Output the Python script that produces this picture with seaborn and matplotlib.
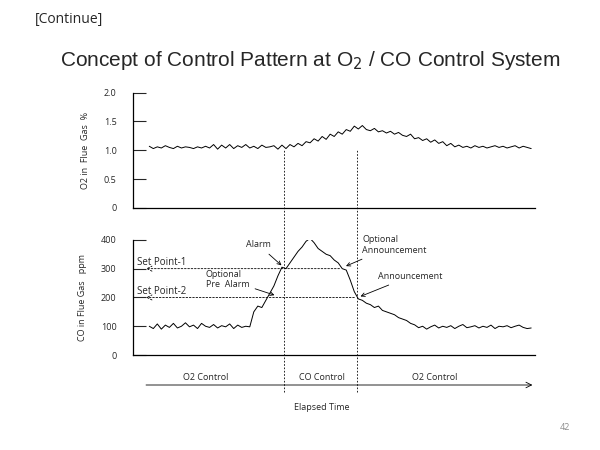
import numpy as np
import seaborn as sns
import matplotlib.pyplot as plt
from matplotlib.lines import Line2D

# elapsed time (arbitrary units) and readings
time = np.arange(4, 100)
o2_pct = [1.07, 1.03, 1.06, 1.04, 1.08, 1.05, 1.03, 1.07, 1.04, 1.06,
          1.05, 1.03, 1.06, 1.04, 1.07, 1.04, 1.10, 1.02, 1.09, 1.04,
          1.10, 1.03, 1.08, 1.05, 1.10, 1.04, 1.07, 1.03, 1.09, 1.05,
          1.06, 1.08, 1.02, 1.09, 1.03, 1.10, 1.06, 1.12, 1.08, 1.15,
          1.13, 1.20, 1.16, 1.24, 1.19, 1.28, 1.24, 1.32, 1.28, 1.36,
          1.33, 1.42, 1.37, 1.43, 1.36, 1.34, 1.38, 1.32, 1.34, 1.30,
          1.33, 1.28, 1.31, 1.26, 1.24, 1.28, 1.20, 1.22, 1.17, 1.20,
          1.14, 1.18, 1.12, 1.15, 1.08, 1.12, 1.06, 1.09, 1.05, 1.07,
          1.04, 1.08, 1.05, 1.07, 1.04, 1.06, 1.08, 1.05, 1.07, 1.04,
          1.06, 1.08, 1.04, 1.07, 1.05, 1.03]
co_ppm = [100, 92, 108, 90, 104, 96, 110, 94, 100, 112,
          98, 104, 92, 110, 100, 96, 106, 94, 102, 98,
          108, 92, 104, 96, 100, 98, 150, 170, 165, 190,
          215, 240, 275, 305, 300, 320, 340, 360, 375, 395,
          405, 390, 370, 360, 350, 345, 330, 320, 300, 295,
          260, 220, 195, 190, 180, 175, 165, 170, 155, 150,
          145, 140, 130, 125, 120, 110, 105, 95, 100, 90,
          98, 104, 94, 100, 96, 102, 92, 100, 106, 95,
          98, 102, 94, 100, 96, 104, 92, 100, 98, 102,
          95, 100, 104, 96, 92, 94]
o2_ticks = [0, 0.5, 1.0, 1.5, 2.0]
co_ticks = [0, 100, 200, 300, 400]
switch_times = [37.6, 55.7]
set_points = [(300, "Set Point-1", 52), (200, "Set Point-2", 55.7)]

sns.set_style("white")
small = {"family": "Open Sans", "size": 6.5}

fig = plt.figure(figsize=(6, 4.5), dpi=100)
ax1 = fig.add_axes([0.222, 0.538, 0.67, 0.256])
ax2 = fig.add_axes([0.222, 0.211, 0.67, 0.256])

sns.lineplot(x=time, y=o2_pct, ax=ax1, color="black", linewidth=0.7)
sns.lineplot(x=time, y=co_ppm, ax=ax2, color="black", linewidth=0.7)

for ax, ticks, lab, fmt in [(ax1, o2_ticks, "O2 in  Flue  Gas  %", "{:.1f}"),
                            (ax2, co_ticks, "CO in Flue Gas   ppm", "{:d}")]:
    ax.set_xlim(0, 100)
    ax.set_ylim(0, ticks[-1])
    ax.set_xticks([])
    ax.set_yticks(ticks)
    ax.set_yticklabels(["0" if t == 0 else fmt.format(t) for t in ticks], **small)
    ax.tick_params(axis="y", direction="in", length=9, width=0.8, pad=12, left=True)
    for s in ["top", "right"]:
        ax.spines[s].set_visible(False)
    for s in ["left", "bottom"]:
        ax.spines[s].set_linewidth(0.9)
        ax.spines[s].set_color("black")
    ax.set_ylabel(lab, **small, labelpad=10)

# set point dashed arrows
for val, name, end in set_points:
    ax2.annotate("", xy=(2.5, val), xytext=(end, val),
                 arrowprops=dict(arrowstyle="->", mutation_scale=9, linestyle=(0, (2, 2)),
                                 lw=0.6, color="black"))
    ax2.text(1, val + 22, name, family="Open Sans", size=7, va="center")

# switch lines across both panels
inv = fig.transFigure.inverted()
for t in switch_times:
    xf = inv.transform(ax2.transData.transform((t, 0)))[0]
    fig.add_artist(Line2D([xf, xf], [1 - 392 / 450, 1 - 150 / 450], color="black",
                          lw=0.6, linestyle=(0, (2, 2))))

arrow = dict(arrowstyle="->", lw=0.6, color="black")
ax2.annotate("Alarm", xy=(37.4, 305), xytext=(28, 375), arrowprops=arrow, **small)
ax2.annotate("Optional\nPre  Alarm", xy=(35.8, 205), xytext=(18, 235), arrowprops=arrow,
             **small, ha="left")
ax2.annotate("Optional\nAnnouncement", xy=(52.3, 305), xytext=(57, 355), arrowprops=arrow, **small)
ax2.annotate("Announcement", xy=(55.9, 200), xytext=(61, 265), arrowprops=arrow, **small)

# elapsed time axis
ax2.annotate("", xy=(100, -104), xytext=(2.5, -104), annotation_clip=False,
             arrowprops=dict(arrowstyle="->", lw=0.6, color="black"))
for x, lab in [(18, "O2 Control"), (47, "CO Control"), (75, "O2 Control")]:
    ax2.text(x, -78, lab, **small, ha="center", va="center", clip_on=False)
ax2.text(47, -183, "Elapsed Time", **small, ha="center", va="center", clip_on=False)

fig.text(35 / 600, 1 - 20 / 450, "[Continue]", family="Open Sans", size=10, va="center")
fig.text(310 / 600, 1 - 60 / 450, "Concept of Control Pattern at O$_2$ / CO Control System",
         family="Liberation Sans", size=15, ha="center", va="center")
fig.text(565 / 600, 1 - 428 / 450, "42", family="Open Sans", size=6.5, color="#8c8c8c",
         ha="center", va="center")

fig.savefig("out.png", dpi=100)
